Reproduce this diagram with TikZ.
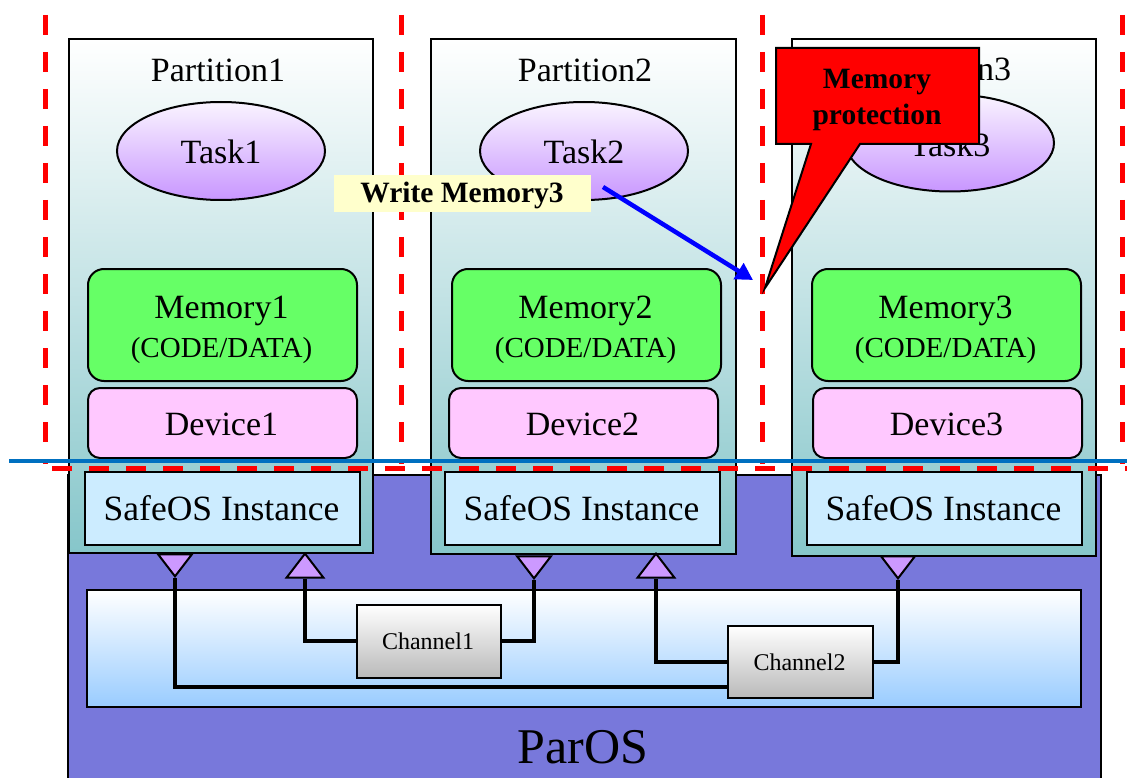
\documentclass[tikz,border=0pt]{standalone}
\usepackage{fontspec}
\setmainfont{Liberation Serif}
\usetikzlibrary{shapes.geometric,arrows.meta,calc}

\definecolor{parosblue}{RGB}{120,120,219}
\definecolor{partteal}{RGB}{134,198,202}
\definecolor{taskbot}{RGB}{200,150,255}
\definecolor{tasktop}{RGB}{250,244,255}
\definecolor{memgreen}{RGB}{102,255,102}
\definecolor{devpink}{RGB}{255,200,255}
\definecolor{safeblue}{RGB}{204,236,255}
\definecolor{chanblue}{RGB}{153,204,255}
\definecolor{chgray}{RGB}{185,185,185}
\definecolor{trilav}{RGB}{204,153,255}
\definecolor{notebg}{RGB}{255,255,204}
\definecolor{lineblue}{RGB}{0,112,192}

\tikzset{
  boxline/.style={draw=black, line width=2pt},
  partbox/.style={boxline, rectangle, top color=white, bottom color=partteal, inner sep=0pt, anchor=north west},
  taskell/.style={boxline, ellipse, top color=tasktop, bottom color=taskbot, minimum width=208, minimum height=98, inner sep=0pt},
  membox/.style={boxline, rectangle, rounded corners=16pt, fill=memgreen, minimum width=269, minimum height=112, inner sep=0pt, anchor=north west},
  devbox/.style={boxline, rectangle, rounded corners=12pt, fill=devpink, minimum width=269, minimum height=70, inner sep=0pt, anchor=north west},
  safebox/.style={boxline, rectangle, fill=safeblue, minimum width=275, minimum height=73, inner sep=0pt, anchor=north west},
  chanbox/.style={boxline, rectangle, top color=white, bottom color=chgray, inner sep=0pt, anchor=north west},
  trioutbox/.style={boxline, isosceles triangle, isosceles triangle apex angle=75, shape border rotate=-90, fill=trilav, minimum height=22, inner sep=0pt, anchor=apex},
  triinbox/.style={boxline, isosceles triangle, isosceles triangle apex angle=75, shape border rotate=90, fill=trilav, minimum height=24, inner sep=0pt, anchor=apex},
  wire/.style={draw=black, line width=3.4pt},
  bigtxt/.style={font=\fontsize{34}{40}\selectfont, inner sep=0pt, anchor=base},
  ostxt/.style={font=\fontsize{35.5}{42}\selectfont, inner sep=0pt, anchor=base},
  smalltxt/.style={font=\fontsize{29}{34}\selectfont, inner sep=0pt, anchor=base},
  chantxt/.style={font=\fontsize{24}{28}\selectfont, inner sep=0pt, anchor=base},
  boldtxt/.style={font=\bfseries\fontsize{29.5}{34}\selectfont, inner sep=0pt, anchor=base},
  redfence/.style={draw=red, line width=5pt, dash pattern=on 20pt off 17pt},
}

\begin{document}
\begin{tikzpicture}[x=1pt, y=-1pt]
\useasboundingbox (0,0) rectangle (1127,778);
\clip (0,0) rectangle (1127,778);

% ParOS base layer
\node[boxline, rectangle, fill=parosblue, inner sep=0pt, anchor=north west,
      minimum width=1033, minimum height=320] (paros) at (67,474) {};
\node[font=\fontsize{50}{60}\selectfont, inner sep=0pt, anchor=base] (parostxt) at (583,763) {ParOS};

% channel area
\node[boxline, rectangle, top color=white, bottom color=chanblue, inner sep=0pt, anchor=north west,
      minimum width=994, minimum height=117] (chanarea) at (86,589) {};

% partitions
\node[partbox, minimum width=304, minimum height=514] (p1) at (68,38) {};
\node[partbox, minimum width=305, minimum height=515] (p2) at (430,38) {};
\node[partbox, minimum width=304, minimum height=517] (p3) at (791,38) {};

\node[bigtxt] (p1t) at (218,82) {Partition1};
\node[bigtxt] (p2t) at (585,82) {Partition2};
\node[bigtxt] (p3t) at (944,81) {Partition3};

% tasks
\node[taskell] (t1) at (221,151) {};
\node[taskell] (t2) at (584,151) {};
\node[taskell, minimum height=97] (t3) at (950,143) {};
\node[bigtxt] (t1t) at (221,164) {Task1};
\node[bigtxt] (t2t) at (584,164) {Task2};
\node[bigtxt] (t3t) at (950,157) {Task3};

% memories
\node[membox] (m1) at (87,268) {};
\node[membox] (m2) at (451,268) {};
\node[membox] (m3) at (811,268) {};
\foreach \n/\x in {1/221.5, 2/585.5, 3/945.5}{
  \node[bigtxt] (m\n a) at (\x,318) {Memory\n};
  \node[smalltxt] (m\n b) at (\x,357) {(CODE/DATA)};
}

% devices
\node[devbox] (d1) at (87,387) {};
\node[devbox] (d2) at (448,387) {};
\node[devbox] (d3) at (812,387) {};
\node[bigtxt] (d1t) at (221.5,435) {Device1};
\node[bigtxt] (d2t) at (582.5,435) {Device2};
\node[bigtxt] (d3t) at (946.5,435) {Device3};

% SafeOS instances
\node[safebox] (s1) at (84,471) {};
\node[safebox] (s2) at (444,471) {};
\node[safebox] (s3) at (806,471) {};
\node[ostxt] (s1t) at (221.5,520) {SafeOS Instance};
\node[ostxt] (s2t) at (581.5,520) {SafeOS Instance};
\node[ostxt] (s3t) at (943.5,520) {SafeOS Instance};

% channels
\node[chanbox, minimum width=144, minimum height=73] (c1) at (356,604) {};
\node[chanbox, minimum width=145, minimum height=72] (c2) at (727,625) {};
\node[chantxt] (c1t) at (428,649) {Channel1};
\node[chantxt] (c2t) at (799.5,670) {Channel2};

% ports: outputs point down, inputs point up
\node[trioutbox] (o1) at (175,578) {};
\node[triinbox]  (i1) at (305,552) {};
\node[trioutbox] (o2) at (534,580) {};
\node[triinbox]  (i2) at (656,552) {};
\node[trioutbox] (o3) at (898,580) {};

% wiring
\coordinate (w1) at (175,687);
\coordinate (w2) at (305,641);
\coordinate (w3) at (534,641);
\coordinate (w4) at (656,662);
\coordinate (w5) at (898,662);
\draw[wire] (o1.apex) -- (w1) -- (w1 -| c2.west);
\draw[wire] (i1.south) -- (w2) -- (w2 -| c1.west);
\draw[wire] (w3 -| c1.east) -- (w3) -- (o2.apex);
\draw[wire] (i2.south) -- (w4) -- (w4 -| c2.west);
\draw[wire] (w5 -| c2.east) -- (w5) -- (o3.apex);

% isolation fences
\coordinate (f1a) at (45,15);   \coordinate (f1b) at (45,464);
\coordinate (f2a) at (401,15);  \coordinate (f2b) at (401,464);
\coordinate (f3a) at (762,15);  \coordinate (f3b) at (762,464);
\coordinate (f4a) at (1122,15); \coordinate (f4b) at (1122,464);
\coordinate (fha) at (52,468);  \coordinate (fhb) at (1127,468);
\draw[redfence] (f1a) -- (f1b);
\draw[redfence] (f2a) -- (f2b);
\draw[redfence] (f3a) -- (f3b);
\draw[redfence] (f4a) -- (f4b);
\draw[redfence] (fha) -- (fhb);

% kernel / user boundary
\coordinate (bla) at (9,461);
\coordinate (blb) at (1127,461);
\draw[draw=lineblue, line width=4.8pt] (bla) -- (blb);

% illegal access
\node[fill=notebg, rectangle, inner sep=0pt, anchor=north west,
      minimum width=257, minimum height=37] (wm) at (334,175) {};
\node[boldtxt] (wmt) at (462,203) {Write Memory3};
\coordinate (acc0) at (603,187);
\coordinate (acc1) at (753,280);
\draw[draw=blue, line width=4.5pt, -{Triangle[length=17pt, width=18pt]}] (acc0) -- (acc1);

% protection callout
\coordinate (cnA) at (776,48);
\coordinate (cnB) at (979,144);
\coordinate (tailL) at (811,144);
\coordinate (tailR) at (860,144);
\coordinate (tip) at (765,288);
\draw[boxline, fill=red, line join=miter]
  (cnA) -- (cnA -| cnB) -- (cnB) -- (tailR) -- (tip) -- (tailL) -- (cnA |- cnB) -- cycle;
\node[boldtxt] (mp1) at (877,89) {Memory};
\node[boldtxt] (mp2) at (877,125) {protection};
\end{tikzpicture}
\end{document}
